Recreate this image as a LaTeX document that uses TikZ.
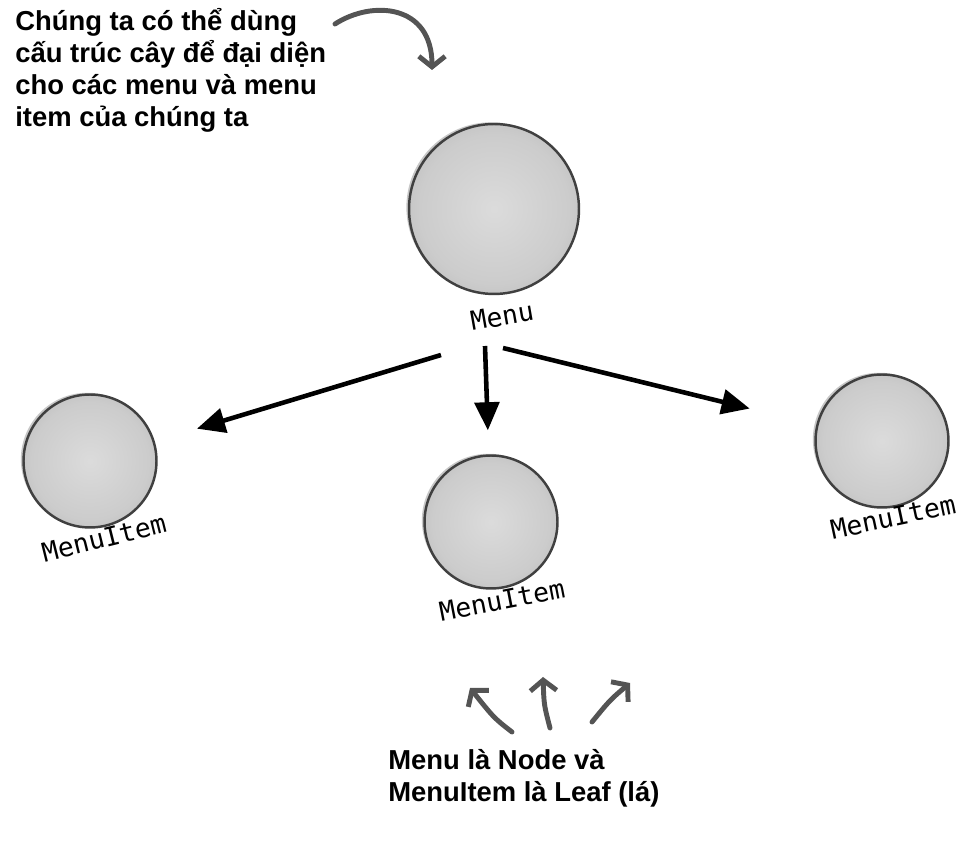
\documentclass[tikz,border=0pt]{standalone}
\usepackage{fontspec}
\setmainfont{Liberation Sans}
\newfontfamily\handfont{DejaVu Sans Mono}
\usetikzlibrary{arrows.meta}
\usetikzlibrary{shadows}

\pgfdeclareradialshading{ballshade}{\pgfpoint{0bp}{0bp}}{color(0bp)=(black!14); color(22bp)=(black!20); color(36bp)=(black!30); color(44bp)=(black!45); color(48bp)=(black!58); color(50bp)=(black!68)}

\begin{document}
\begin{tikzpicture}[x=0.02cm,y=-0.02cm]
	\tikzstyle{every node}=[font=\bfseries\fontsize{15.6}{18.2}\selectfont]
	\tikzstyle{ball}=[circle,draw=black!75,line width=1.4pt,shading=ballshade,inner sep=0pt,
		drop shadow={shadow xshift=-1.5pt,shadow yshift=1pt,fill=black!22,opacity=1}]
	\tikzstyle{menuball}=[ball,minimum size=3.4cm]
	\tikzstyle{itemball}=[ball,minimum size=2.66cm]
	\tikzstyle{hand}=[font=\handfont\fontsize{15}{16}\selectfont]
	\tikzstyle{tree}=[line width=2.6pt,-{Triangle[length=16pt,width=14pt]}]
	\tikzstyle{note}=[black!67,line width=2.8pt,line cap=round,-{Straight Barb[length=6pt,width=15pt]}]
	\useasboundingbox (0,0) rectangle (968,844);

	\node[menuball] (menu) at (494,209) {};
	\node[itemball] (left) at (90,461) {};
	\node[itemball] (mid) at (491,522) {};
	\node[itemball] (right) at (882,441) {};

	\node[hand,rotate=10] (menulbl) at (502,316) {Menu};
	\node[hand,rotate=14] (leftlbl) at (104,538) {MenuItem};
	\node[hand,rotate=11] (midlbl) at (502,600) {MenuItem};
	\node[hand,rotate=12] (rightlbl) at (893,517) {MenuItem};

	\node[anchor=north west,align=left,inner sep=0pt] (topnote) at (15,8)
		{Chúng ta có thể dùng\\cấu trúc cây để đại diện\\cho các menu và menu\\item của chúng ta};
	\node[anchor=north west,align=left,inner sep=0pt] (botnote) at (388,749)
		{Menu là Node và\\MenuItem là Leaf (lá)};

	\coordinate (t1) at (441,355);
	\coordinate (t2) at (485,346);
	\coordinate (t3) at (503,348);
	\draw[tree,shorten >=0.88cm] (t1) -- (left);
	\draw[tree,shorten >=0.48cm] (t2) -- (mid);
	\draw[tree,shorten >=1.37cm] (t3) -- (right);

	\coordinate (n0) at (335,24);
	\coordinate (n0e) at (432,70);
	\draw[note] (n0) .. controls (372,0) and (432,4) .. (n0e);

	\coordinate (n1) at (512,732);
	\coordinate (n1e) at (470,688);
	\coordinate (n2) at (550,728);
	\coordinate (n2e) at (543,677);
	\coordinate (n3) at (592,722);
	\coordinate (n3e) at (630,683);
	\draw[note] (n1) .. controls (494,718) .. (n1e);
	\draw[note] (n2) .. controls (544,705) .. (n2e);
	\draw[note] (n3) .. controls (610,700) .. (n3e);
\end{tikzpicture}
\end{document}
